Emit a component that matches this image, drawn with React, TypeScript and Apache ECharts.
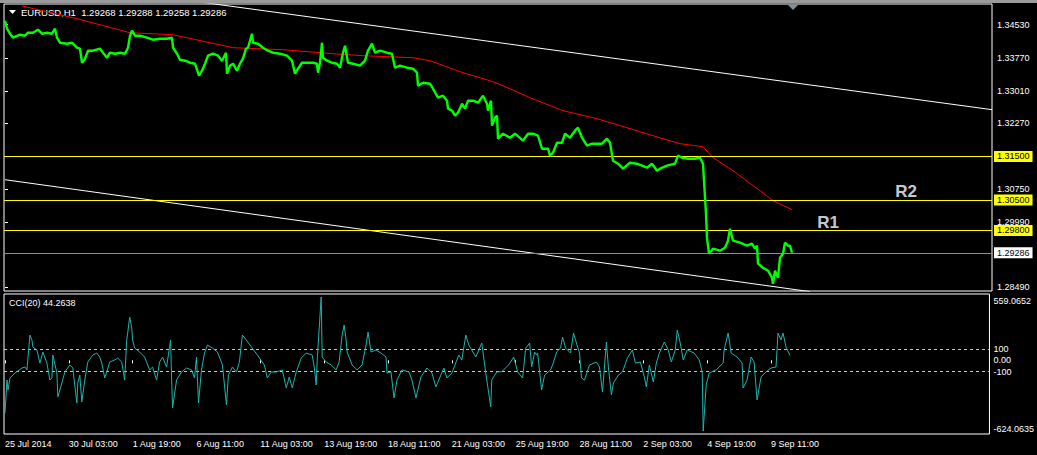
import React, { useEffect, useRef } from "react";
import * as echarts from "echarts";

// ---- data (x = hourly bar number from 25 Jul 2014) ----
const symbolName = "EURUSD,H1";
const lastBarOHLC = [1.29268, 1.29288, 1.29258, 1.29286];
const cciName = "CCI(20)";
const cciLast = 44.2638;

const priceSeries: [number, number][] = [
  [0, 1.34622], [2, 1.34438], [5, 1.34323], [8, 1.34231], [15, 1.343], [20, 1.34277], [23, 1.34346],
  [28, 1.34346], [33, 1.34415], [37, 1.34323], [42, 1.34346], [47, 1.34323], [50, 1.34438], [52, 1.34231],
  [55, 1.34116], [62, 1.34093], [67, 1.34116], [72, 1.34001], [75, 1.33978], [77, 1.33656], [80, 1.33748],
  [83, 1.33932], [88, 1.33932], [95, 1.33978], [98, 1.33886], [102, 1.33771], [105, 1.33886], [110, 1.33863],
  [115, 1.33886], [120, 1.33863], [123, 1.34001], [125, 1.34277], [127, 1.34392], [130, 1.34277], [135, 1.34277],
  [142, 1.34231], [148, 1.34185], [155, 1.34208], [162, 1.34208], [167, 1.34231], [168, 1.34001], [172, 1.33863],
  [175, 1.33725], [180, 1.33702], [185, 1.33656], [190, 1.33633], [194, 1.33357], [197, 1.33472], [200, 1.33633],
  [203, 1.33817], [208, 1.33863], [213, 1.33817], [217, 1.33702], [221, 1.33886], [222, 1.33403], [225, 1.33587],
  [228, 1.33633], [232, 1.33472], [235, 1.33633], [238, 1.33748], [241, 1.33978], [243, 1.34001], [247, 1.34323],
  [248, 1.34116], [253, 1.34093], [258, 1.34001], [263, 1.33932], [268, 1.33886], [275, 1.33863], [282, 1.33817],
  [287, 1.33702], [290, 1.33403], [293, 1.33518], [297, 1.33656], [302, 1.33656], [308, 1.33656], [312, 1.33633],
  [313, 1.33426], [315, 1.33656], [317, 1.34116], [318, 1.33771], [322, 1.33702], [327, 1.33656], [332, 1.33633],
  [335, 1.33541], [338, 1.33886], [340, 1.34047], [343, 1.33656], [348, 1.33633], [355, 1.33587], [360, 1.33702],
  [363, 1.33932], [367, 1.34093], [370, 1.33886], [375, 1.33932], [382, 1.33886], [387, 1.33863], [390, 1.33541],
  [395, 1.33587], [402, 1.33541], [408, 1.33518], [412, 1.33426], [413, 1.33127], [418, 1.33196], [425, 1.33173],
  [428, 1.33058], [433, 1.32852], [438, 1.32898], [442, 1.32783], [443, 1.32599], [447, 1.32553], [450, 1.32438],
  [453, 1.32507], [457, 1.32714], [460, 1.32599], [463, 1.32783], [468, 1.32783], [473, 1.32737], [478, 1.32898],
  [482, 1.32714], [483, 1.32553], [486, 1.32783], [487, 1.32208], [490, 1.32392], [492, 1.32438], [493, 1.31909],
  [498, 1.32024], [505, 1.31932], [510, 1.32024], [518, 1.31863], [523, 1.32024], [528, 1.32024], [533, 1.31978],
  [537, 1.31679], [543, 1.31679], [545, 1.31518], [548, 1.31587], [552, 1.31817], [557, 1.31817], [560, 1.32024],
  [565, 1.31932], [570, 1.32093], [573, 1.32162], [577, 1.31932], [582, 1.31748], [587, 1.31794], [592, 1.31794],
  [597, 1.31794], [602, 1.31909], [605, 1.31817], [608, 1.31403], [613, 1.31334], [618, 1.31219], [625, 1.31357],
  [632, 1.31334], [642, 1.31242], [647, 1.31334], [652, 1.31173], [655, 1.31219], [662, 1.31288], [670, 1.31334],
  [673, 1.31518], [677, 1.31472], [683, 1.31449], [690, 1.31449], [695, 1.31472], [698, 1.31334], [700, 1.30552],
  [701, 1.30185], [702, 1.29633], [704, 1.29265], [708, 1.2938], [715, 1.29334], [720, 1.29403], [723, 1.29564],
  [725, 1.2984], [728, 1.29564], [735, 1.29518], [742, 1.29449], [747, 1.29495], [750, 1.2938], [752, 1.29449],
  [753, 1.29035], [758, 1.28943], [763, 1.28874], [767, 1.28713], [768, 1.28575], [770, 1.28874], [773, 1.28713],
  [775, 1.29173], [778, 1.29265], [780, 1.29518], [783, 1.29449], [785, 1.29449], [787, 1.29286],
];

const maSeries: [number, number][] = [
  [17, 1.34967], [20, 1.34944], [72, 1.34668], [125, 1.34346], [168, 1.343], [228, 1.34001], [278, 1.33955],
  [328, 1.33863], [358, 1.33817], [408, 1.33771], [425, 1.33702], [458, 1.33426], [485, 1.33242], [498, 1.33127],
  [525, 1.32852], [558, 1.32553], [592, 1.32369], [625, 1.32139], [658, 1.31909], [675, 1.31794], [698, 1.31725],
  [708, 1.31472], [728, 1.31173], [755, 1.30713], [768, 1.30484], [787, 1.30277],
];

const cciSeries: [number, number][] = [
  [0, -467], [2, -174], [3, -262], [5, -156], [10, -112], [17, -68], [20, -59], [22, -85], [23, 20], [25, 223],
  [27, 179], [28, 117], [32, 91], [35, -24], [38, 73], [42, -24], [45, -174], [47, -156], [48, 47], [52, -112],
  [53, -323], [57, -200], [60, -103], [65, -41], [68, -68], [72, -376], [73, -200], [75, -130], [77, -367],
  [80, -174], [83, -15], [88, 47], [92, 64], [95, 29], [97, -24], [100, -156], [102, -103], [105, -15], [110, 3],
  [113, 20], [117, -15], [120, -174], [122, 179], [123, 241], [125, 381], [127, 293], [128, 179], [130, 108],
  [135, 73], [140, 29], [145, -85], [148, -59], [152, -174], [155, -15], [158, 29], [162, -59], [166, 179],
  [167, -147], [168, -420], [172, -174], [177, -103], [182, -68], [187, -85], [190, -156], [192, 29], [194, -376],
  [197, -85], [200, 64], [203, 135], [208, 108], [213, 73], [218, -41], [222, -393], [224, -130], [228, -59],
  [232, -103], [235, -15], [238, 223], [242, 179], [247, 117], [253, 47], [260, -41], [263, -156], [267, -103],
  [272, -103], [278, -85], [282, -244], [285, -147], [288, -244], [292, -103], [297, 20], [302, 64], [308, 47],
  [310, -59], [312, -218], [313, 3], [317, 559.0652], [318, 29], [322, -15], [327, -41], [332, -85], [335, -15],
  [338, 223], [340, 311], [342, 179], [343, 73], [348, -41], [353, -85], [358, -41], [362, 135], [364, 249],
  [367, 73], [372, 91], [377, 64], [382, 29], [383, -112], [387, -103], [390, -332], [393, -174], [398, -85],
  [405, -103], [408, -174], [412, -332], [417, -147], [423, -68], [428, -112], [432, -235], [437, -130], [440, -68],
  [443, -156], [448, -112], [455, 47], [458, 3], [462, 223], [465, 135], [472, 29], [478, 152], [482, -112],
  [487, -411], [488, -174], [493, -103], [498, -100], [505, -41], [510, 29], [514, -103], [519, -156], [522, 108],
  [526, 152], [528, -59], [531, 73], [533, 47], [534, 64], [538, -262], [541, -130], [547, -85], [550, -15],
  [553, 73], [557, 108], [559, 205], [562, 108], [567, 64], [570, 241], [572, 179], [576, 64], [578, -156],
  [581, -174], [586, -41], [593, -15], [596, -59], [599, -279], [601, -59], [603, 161], [605, -68], [608, -306],
  [610, -200], [615, -130], [619, -103], [624, 20], [629, 91], [632, -24], [637, -15], [641, -147], [643, -235],
  [646, -41], [650, -191], [653, -24], [656, 64], [661, 161], [665, 91], [668, -15], [672, 91], [674, 267],
  [677, 152], [680, 3], [684, 91], [691, 64], [696, 3], [699, -103], [700, -624.0635], [703, -218], [706, -112],
  [713, -85], [720, -24], [721, 91], [725, 241], [728, 64], [734, 29], [739, -24], [740, -244], [744, -174],
  [748, 29], [751, -15], [754, -350], [758, -147], [763, -103], [768, -68], [773, -59], [775, 241], [778, 179],
  [780, 241], [783, 117], [787, 44.2638],
];

const upperTrend: [number, number][] = [[0, 1.35661], [987, 1.32576]];
const lowerTrend: [number, number][] = [[0, 1.30966], [805, 1.28392]];

const levelValues = [1.315, 1.305, 1.298];
const bidPrice = 1.29286;
const chartFirstBar = -1;
const chartLastBar = 987;
const priceMin = 1.28407;
const priceMax = 1.35006;
const resistanceNames = ["R1", "R2"];
const resistancePoints: [number, number][] = [[823, 1.29978], [901, 1.3069]];

const priceTicks = [1.3453, 1.3377, 1.3301, 1.3227, 1.3075, 1.2999, 1.2849];
const cciTicks = [559.0652, 100, 0, -100, -624.0635];
const cciTickLabels = ["559.0652", "100", "0.00", "-100", "-624.0635"];
const cciLevels = [100, -100];
const timeTickBars = [0, 64, 128, 192, 256, 320, 384, 448, 512, 576, 640, 704, 768];
const timeTickLabels = [
  "25 Jul 2014", "30 Jul 03:00", "1 Aug 19:00", "6 Aug 11:00", "11 Aug 03:00", "13 Aug 19:00",
  "18 Aug 11:00", "21 Aug 03:00", "25 Aug 19:00", "28 Aug 11:00", "2 Sep 03:00", "4 Sep 19:00", "9 Sep 11:00",
];

const FONT = "'Liberation Sans', Arial, sans-serif";

export default function App() {
  const ref = useRef<HTMLDivElement>(null);

  useEffect(() => {
    document.body.style.margin = "0";
    document.body.style.background = "#000";
    if (!ref.current) return;
    const chart = echarts.init(ref.current, undefined, { renderer: "svg" });

    const axisText = { color: "#fff", fontSize: 9, fontFamily: FONT };

    // one horizontal object line per series (invisible carrier + single markLine)
    const hLine = (name: string, v: number, color: string, tagBg: string) => ({
      type: "line", name, xAxisIndex: 0, yAxisIndex: 0,
      data: [[chartFirstBar, v], [chartLastBar, v]],
      showSymbol: false, silent: true,
      lineStyle: { opacity: 0, width: 0 }, z: 3,
      markLine: {
        silent: true, symbol: ["none", "none"], precision: 5,
        lineStyle: { color, width: 1, type: "solid", opacity: 1 },
        label: {
          show: true, position: "end", distance: 2, formatter: v.toFixed(5),
          backgroundColor: tagBg, color: "#000", fontSize: 9, fontFamily: FONT, padding: [1, 3, 1, 3],
        },
        data: [{ yAxis: v }],
      },
    });

    const option: any = {
      animation: false,
      backgroundColor: "#000",
      grid: [
        { left: 4, top: 4, width: 988, height: 287, show: true, borderColor: "#fff", borderWidth: 1, backgroundColor: "transparent" },
        { left: 4, top: 294, width: 988, height: 140, show: true, borderColor: "#fff", borderWidth: 1, backgroundColor: "transparent" },
      ],
      xAxis: [
        { type: "value", gridIndex: 0, min: chartFirstBar, max: chartLastBar, show: false },
        {
          type: "value", gridIndex: 1, min: chartFirstBar, max: chartLastBar,
          axisLine: { show: false }, splitLine: { show: false },
          axisTick: { show: true, inside: false, customValues: timeTickBars, length: 3, lineStyle: { color: "#fff" } },
          axisLabel: {
            ...axisText, customValues: timeTickBars, align: "left", margin: 5,
            formatter: (v: number) => timeTickLabels[timeTickBars.indexOf(Math.round(v))] ?? "",
          },
        },
      ],
      yAxis: [
        {
          type: "value", gridIndex: 0, position: "right", min: priceMin, max: priceMax,
          axisLine: { show: false }, splitLine: { show: false },
          axisTick: { show: true, inside: false, customValues: priceTicks, length: 3, lineStyle: { color: "#fff" } },
          axisLabel: { ...axisText, customValues: priceTicks, margin: 5, formatter: (v: number) => v.toFixed(5) },
        },
        {
          type: "value", gridIndex: 1, position: "right", min: -650.6, max: 585.6,
          axisLine: { show: false }, splitLine: { show: false },
          axisTick: { show: false },
          axisLabel: {
            ...axisText, customValues: cciTicks, margin: 4,
            formatter: (v: number) => {
              const i = cciTicks.findIndex((t) => Math.abs(t - v) < 1e-6);
              if (i < 0) return "";
              if (i === 0) return "{top|" + cciTickLabels[i] + "}";
              if (i === cciTicks.length - 1) return "{bot|" + cciTickLabels[i] + "}";
              return cciTickLabels[i];
            },
            rich: {
              top: { color: "#fff", fontSize: 9, fontFamily: FONT, padding: [7, 0, 0, 0] },
              bot: { color: "#fff", fontSize: 9, fontFamily: FONT, padding: [0, 0, 3, 0] },
            },
          },
        },
      ],
      series: [
        {
          type: "line", name: "trendUpper", xAxisIndex: 0, yAxisIndex: 0, data: upperTrend,
          showSymbol: false, silent: true, lineStyle: { color: "#fff", width: 1 }, z: 2,
        },
        {
          type: "line", name: "trendLower", xAxisIndex: 0, yAxisIndex: 0, data: lowerTrend,
          showSymbol: false, silent: true, lineStyle: { color: "#fff", width: 1 }, z: 2,
        },
        ...levelValues.map((v, i) => hLine("level" + i, v, "#ffff00", "#ffff00")),
        hLine("bid", bidPrice, "#8c8c8c", "#ffffff"),
        {
          type: "line", name: "MA", xAxisIndex: 0, yAxisIndex: 0, data: maSeries,
          showSymbol: false, silent: true, lineStyle: { color: "#ff0000", width: 1 }, z: 4,
        },
        {
          type: "line", name: "price", xAxisIndex: 0, yAxisIndex: 0, data: priceSeries,
          showSymbol: false, silent: true, lineStyle: { color: "#00ff00", width: 2.4 }, z: 5,
        },
        {
          type: "scatter", name: "resistance", xAxisIndex: 0, yAxisIndex: 0, data: resistancePoints,
          symbol: "circle", symbolSize: 1, itemStyle: { color: "rgba(0,0,0,0)" }, silent: true, z: 6,
          label: {
            show: true, position: "inside", color: "#ffffff", fontSize: 17, fontWeight: "bold", fontFamily: FONT,
            formatter: (p: any) => resistanceNames[p.dataIndex],
          },
        },
        {
          type: "line", name: "CCI", xAxisIndex: 1, yAxisIndex: 1, data: cciSeries,
          showSymbol: false, silent: true, lineStyle: { color: "#20b2aa", width: 1 }, z: 5,
          markLine: {
            silent: true, symbol: ["none", "none"], label: { show: false },
            lineStyle: { color: "#c8c8c8", width: 1, type: [3, 3] },
            data: cciLevels.map((v) => ({ yAxis: v })),
          },
        },
      ],
      graphic: [
        { type: "rect", shape: { x: 0, y: 0, width: 1037, height: 3 }, style: { fill: "#9a9a9a" }, silent: true },
        { type: "polygon", shape: { points: [[9, 10], [16, 10], [12.5, 14]] }, style: { fill: "#fff" }, silent: true },
        {
          type: "text", x: 21, y: 12, silent: true,
          style: {
            text: symbolName + "\u00a0\u00a0" + lastBarOHLC.map((v) => v.toFixed(5)).join(" "),
            fill: "#fff", fontSize: 9.5, fontFamily: FONT, verticalAlign: "middle", align: "left",
          },
        },
        {
          type: "text", x: 9, y: 303, silent: true,
          style: {
            text: cciName + " " + cciLast.toFixed(4),
            fill: "#fff", fontSize: 9, fontFamily: FONT, verticalAlign: "middle", align: "left",
          },
        },
        { type: "polygon", shape: { points: [[788, 5], [798, 5], [793, 10]] }, style: { fill: "#7f8ea3" }, silent: true },
      ],
    };

    chart.setOption(option);
    return () => chart.dispose();
  }, []);

  return <div ref={ref} style={{ width: 1037, height: 455, background: "#000" }} />;
}
